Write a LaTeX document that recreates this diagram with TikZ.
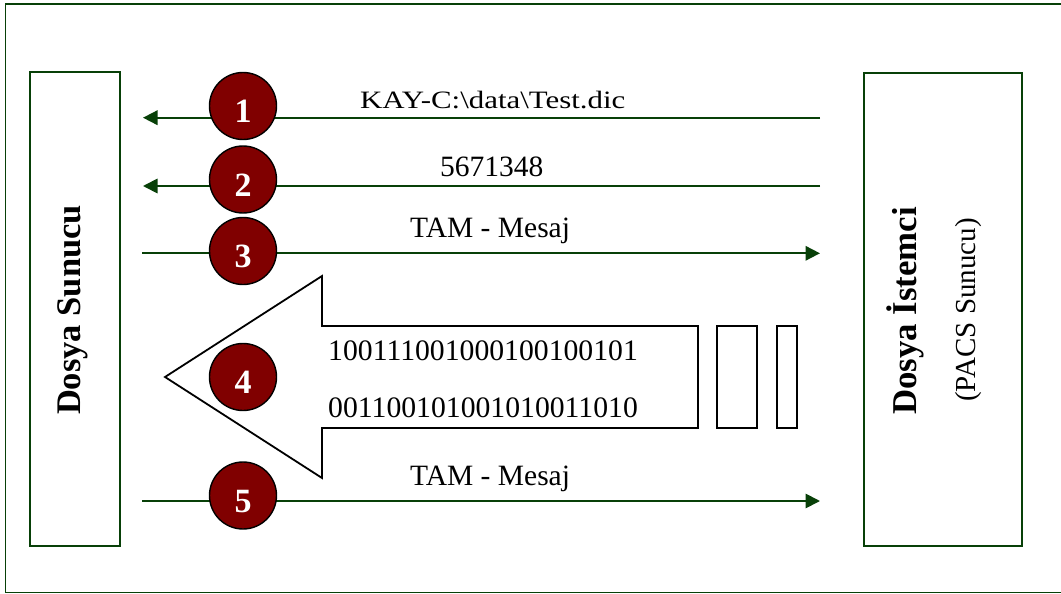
\documentclass[tikz,border=0pt]{standalone}
\usepackage{fontspec}
\setmainfont{Liberation Serif}
\usetikzlibrary{arrows.meta}
\definecolor{framegreen}{RGB}{8,64,8}
\definecolor{badgered}{RGB}{128,0,0}

\begin{document}
\begin{tikzpicture}[x=1pt,y=-1pt,
  frame/.style={draw=framegreen,line width=1.5pt},
  msg/.style={draw=framegreen,line width=1.8pt,-{Triangle[length=14.5pt,width=14.5pt]}},
  badge/.style={circle,draw=black,line width=1.4pt,fill=badgered,minimum size=67pt,
    inner sep=0pt,text=white,font=\fontsize{34}{34}\selectfont\bfseries,
    text height=33pt,text depth=0pt},
  lbl/.style={anchor=base west,inner sep=0pt,font=\fontsize{29.5}{32}\selectfont},
  bits/.style={anchor=base west,inner sep=0pt,font=\fontsize{29.7}{32}\selectfont},
  block/.style={draw=black,line width=1.8pt},
  side/.style={anchor=base,inner sep=0pt,rotate=90},
]
\useasboundingbox (0,0) rectangle (1061,594);

% outer frame (open towards the right edge) and the two end stations
\draw[frame] (1061,4) -- (5.7,4) -- (5.7,592.5) -- (1061,592.5);
\node[frame,minimum width=90pt,minimum height=474pt,inner sep=0pt] (srv) at (75,309) {};
\node[frame,minimum width=158pt,minimum height=473pt,inner sep=0pt] (cli) at (943,309.5) {};

\node[side,font=\fontsize{34.5}{36}\selectfont\bfseries] (srvname) at (80,310) {Dosya Sunucu};
\node[side,font=\fontsize{34.8}{36}\selectfont\bfseries] (cliname) at (916,311) {Dosya İstemci};
\node[side,font=\fontsize{29}{32}\selectfont] (clisub) at (975.5,310) {(PACS Sunucu)};

% message end points
\coordinate (r1) at (820,117.7);  \coordinate (l1) at (143,117.7);
\coordinate (r2) at (820,186);    \coordinate (l2) at (143,186);
\coordinate (l3) at (142,253.3);  \coordinate (r3) at (820,253.3);
\coordinate (l5) at (142,501);    \coordinate (r5) at (820,501);

\draw[msg] (r1) -- (l1);
\draw[msg] (r2) -- (l2);
\draw[msg] (l3) -- (r3);
\draw[msg] (l5) -- (r5);

% message texts
\node[lbl,font=\fontsize{25}{28}\selectfont] (m1) at (360,108.3)
  {\scalebox{1.235}[1]{KAY-C:\textbackslash data\textbackslash Test.dic}};
\node[lbl] (m2) at (440,176.7) {5671348};
\node[lbl] (m3) at (410,237) {TAM - Mesaj};
\node[lbl] (m5) at (410,485) {TAM - Mesaj};

% data transfer: big block arrow with trailing packets
\draw[block,fill=white] (165,377) -- (322,276) -- (322,326) -- (698,326)
  -- (698,428) -- (322,428) -- (322,478) -- cycle;
\draw[block] (717,326) rectangle (757,428);
\draw[block] (777,326) rectangle (797,428);
\node[bits] (b1) at (328,360) {100111001000100100101};
\node[bits] (b2) at (328,417) {001100101001010011010};

% step badges
\node[badge] (s1) at (243,106) {1};
\node[badge] (s2) at (243,179.5) {2};
\node[badge] (s3) at (243,251) {3};
\node[badge] (s4) at (243,377) {4};
\node[badge] (s5) at (243,495.5) {5};
\end{tikzpicture}
\end{document}
